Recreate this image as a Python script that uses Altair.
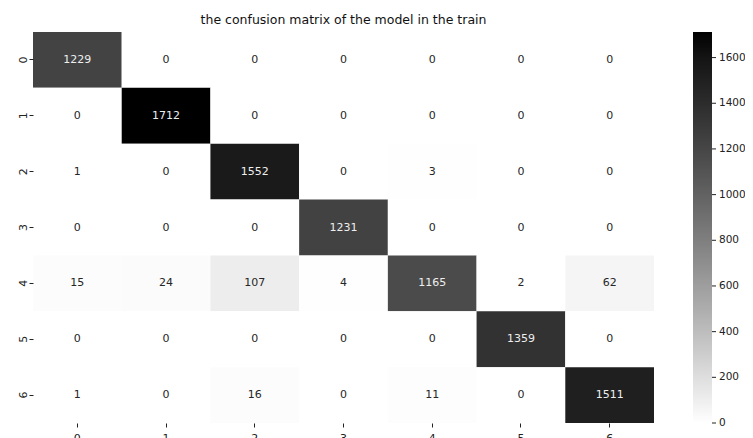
import altair as alt
import pandas as pd

labels = ["0", "1", "2", "3", "4", "5", "6"]
matrix = [
    [1229, 0, 0, 0, 0, 0, 0],
    [0, 1712, 0, 0, 0, 0, 0],
    [1, 0, 1552, 0, 3, 0, 0],
    [0, 0, 0, 1231, 0, 0, 0],
    [15, 24, 107, 4, 1165, 2, 62],
    [0, 0, 0, 0, 0, 1359, 0],
    [1, 0, 16, 0, 11, 0, 1511],
]
cbar_ticks = [0, 200, 400, 600, 800, 1000, 1200, 1400, 1600]

rows = []
for i, r in enumerate(labels):
    for j, c in enumerate(labels):
        rows.append({"actual": r, "pred": c, "v": matrix[i][j]})
df = pd.DataFrame(rows)
tick_df = pd.DataFrame({"t": cbar_ticks, "lab": [str(t) for t in cbar_ticks]})

vmax = max(max(r) for r in matrix)

base = alt.Chart(df)
heat = base.mark_rect().encode(
    x=alt.X("pred:O", sort=labels, title=None,
            axis=alt.Axis(labelAngle=0, domain=False, tickSize=4, labelPadding=5,
                          labelFontSize=11, labelColor="#222", tickColor="#222")),
    y=alt.Y("actual:O", sort=labels, title=None,
            axis=alt.Axis(labelAngle=270, domain=False, tickSize=4, labelPadding=6,
                          labelFontSize=11, labelColor="#222", tickColor="#222",
                          labelBaseline="middle", labelAlign="center")),
    color=alt.Color("v:Q", scale=alt.Scale(domain=[0, vmax], range=["#ffffff", "#000000"]),
                    legend=alt.Legend(title=None, orient="none", legendX=660, legendY=0,
                                      gradientLength=391, gradientThickness=19,
                                      values=[0, vmax], labelExpr="''",
                                      gradientStrokeWidth=0)),
)
text = base.mark_text(fontSize=11, font="DejaVu Sans").encode(
    x=alt.X("pred:O", sort=labels),
    y=alt.Y("actual:O", sort=labels),
    text="v:Q",
    color=alt.condition("datum.v > 565", alt.value("#eeeeee"), alt.value("#262626")),
)

cbar_scale = alt.Scale(domain=[0, vmax], nice=False, zero=True)
cticks = alt.Chart(tick_df).mark_rule(color="#222", strokeWidth=1).encode(
    y=alt.Y("t:Q", scale=cbar_scale, axis=None),
    x=alt.value(679), x2=alt.value(683),
)
clabels = alt.Chart(tick_df).mark_text(align="left", baseline="middle", fontSize=10.5,
                                       font="DejaVu Sans", color="#222").encode(
    y=alt.Y("t:Q", scale=cbar_scale, axis=None),
    x=alt.value(686),
    text="lab:N",
)

chart = alt.layer(alt.layer(heat, text), cticks, clabels).resolve_scale(
    y="independent"
).properties(
    width=621, height=391,
    title=alt.Title("the confusion matrix of the model in the train", fontSize=12.5,
                    fontWeight="normal", font="DejaVu Sans", color="#111", offset=6),
    autosize=alt.AutoSizeParams(type="none"),
    padding={"left": 25, "top": 24, "right": 91, "bottom": 15},
).configure_view(stroke=None).configure_axis(labelFont="DejaVu Sans")

chart.save("out.html", embed_options={"renderer": "svg", "actions": False})
